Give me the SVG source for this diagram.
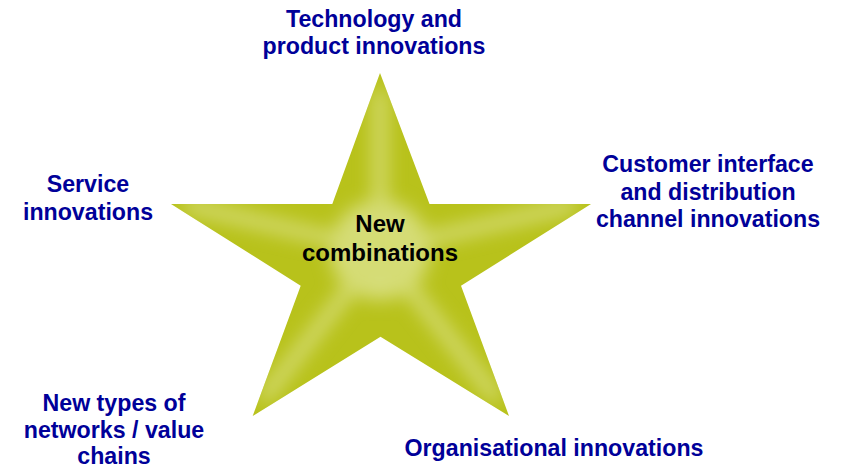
<svg xmlns="http://www.w3.org/2000/svg" width="843" height="469" viewBox="0 0 843 469">
<style>
.lbl{font-family:"Liberation Sans",Arial,sans-serif;font-weight:bold;font-size:23.2px;fill:#000099;text-anchor:middle}
.ctr{font-family:"Liberation Sans",Arial,sans-serif;font-weight:bold;font-size:24px;fill:#000000;text-anchor:middle}
.spine{stroke:#d4db72;stroke-width:14;stroke-linecap:round;fill:none}
</style>
<defs>
<clipPath id="clip">
<polygon points="380,73 429.5,204 591,204 461,285.7 509,416 380.5,336.7 252.7,416 300.7,285.7 171,204 332.3,204"/>
</clipPath>
<filter id="blur" x="-20%" y="-20%" width="140%" height="140%">
<feGaussianBlur stdDeviation="9"/>
</filter>
</defs>
<rect width="843" height="469" fill="#ffffff"/>
<g id="star">
<polygon points="380,73 429.5,204 591,204 461,285.7 509,416 380.5,336.7 252.7,416 300.7,285.7 171,204 332.3,204" fill="#b8c21b"/>
<g clip-path="url(#clip)">
<g filter="url(#blur)">
<circle cx="380" cy="250" r="50" fill="#d6dd78"/>
<path class="spine" d="M380,250 L380,95 M380,250 L570,206 M380,250 L190,206 M380,250 L266,395 M380,250 L494,395"/>
</g>
</g>
<text class="ctr" x="380" y="232">New</text>
<text class="ctr" x="380" y="260.5">combinations</text>
</g>
<g id="technology">
<text class="lbl" x="374" y="26.5">Technology and</text>
<text class="lbl" x="374" y="53.5">product innovations</text>
</g>
<g id="customer">
<text class="lbl" x="708" y="172">Customer interface</text>
<text class="lbl" x="708" y="199.5">and distribution</text>
<text class="lbl" x="708" y="226.5">channel innovations</text>
</g>
<g id="service">
<text class="lbl" x="88" y="191.5">Service</text>
<text class="lbl" x="88" y="220">innovations</text>
</g>
<g id="networks">
<text class="lbl" x="114" y="410.5">New types of</text>
<text class="lbl" x="114" y="437.5">networks / value</text>
<text class="lbl" x="114" y="464">chains</text>
</g>
<g id="organisational">
<text class="lbl" x="554" y="455.5">Organisational innovations</text>
</g>
<g id="connectors"></g>
</svg>
